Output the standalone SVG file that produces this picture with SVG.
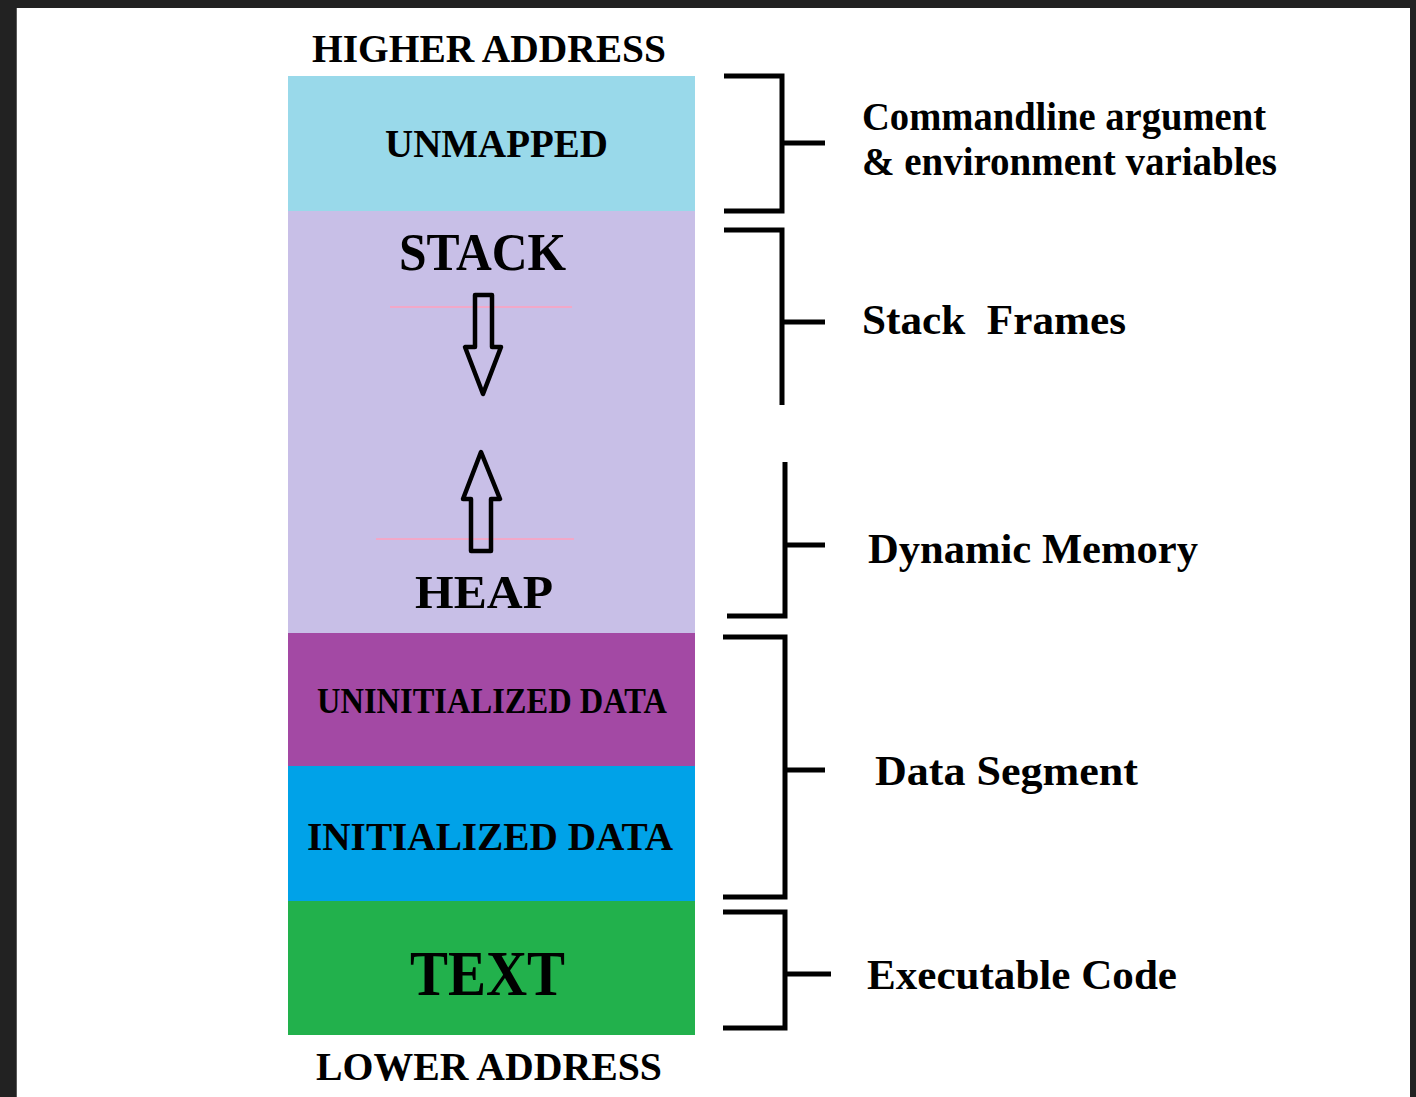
<svg xmlns="http://www.w3.org/2000/svg" width="1416" height="1097" viewBox="0 0 1416 1097">
<style>
.t{font-family:"Liberation Serif","Times New Roman",serif;font-weight:bold;fill:#000}
.br{fill:none;stroke:#000;stroke-width:5;stroke-linejoin:miter;stroke-linecap:butt}
.arw{fill:none;stroke:#000;stroke-width:4.5;stroke-linejoin:round}
.pk{stroke:#f2a8c8;stroke-width:2}
</style>
<rect x="0" y="0" width="1416" height="1097" fill="#222222"/>
<rect x="17" y="8" width="1393" height="1089" fill="#ffffff"/>
<line x1="16.5" y1="8" x2="16.5" y2="1097" stroke="#5a5a5a" stroke-width="1"/>

<text class="t" x="312" y="62" font-size="39" textLength="354" lengthAdjust="spacingAndGlyphs">HIGHER ADDRESS</text>

<g id="unmapped">
<rect x="288" y="76" width="407" height="135" fill="#99d9ea"/>
<text class="t" x="385" y="157" font-size="39" textLength="223" lengthAdjust="spacingAndGlyphs">UNMAPPED</text>
</g>
<g id="stack-heap">
<rect x="288" y="211" width="407" height="422" fill="#c8bfe7"/>
<text class="t" x="399" y="270" font-size="52" textLength="167" lengthAdjust="spacingAndGlyphs">STACK</text>
<line class="pk" x1="390" y1="307" x2="572" y2="307"/>
<polygon class="arw" points="475,295 492,295 492,347 501,347 483,394 465,347 475,347"/>
<line class="pk" x1="376" y1="539" x2="574" y2="539"/>
<polygon class="arw" points="481,452 500,499 491,499 491,551 471,551 471,499 463,499"/>
<text class="t" x="415" y="608" font-size="47" textLength="138" lengthAdjust="spacingAndGlyphs">HEAP</text>
</g>
<g id="uninit">
<rect x="288" y="633" width="407" height="133" fill="#a349a4"/>
<text class="t" x="317" y="713" font-size="36" textLength="350" lengthAdjust="spacingAndGlyphs">UNINITIALIZED DATA</text>
</g>
<g id="init">
<rect x="288" y="766" width="407" height="135" fill="#00a2e8"/>
<text class="t" x="307" y="850" font-size="40" textLength="366" lengthAdjust="spacingAndGlyphs">INITIALIZED DATA</text>
</g>
<g id="text">
<rect x="288" y="901" width="407" height="134" fill="#22b14c"/>
<text class="t" x="410" y="995" font-size="64" textLength="155" lengthAdjust="spacingAndGlyphs">TEXT</text>
</g>

<text class="t" x="316" y="1080" font-size="40" textLength="346" lengthAdjust="spacingAndGlyphs">LOWER ADDRESS</text>

<g id="connectors">
<polyline class="br" points="724,76 782,76 782,211 724,211"/>
<line class="br" x1="782" y1="143" x2="825" y2="143"/>
<polyline class="br" points="724,230 782,230 782,405"/>
<line class="br" x1="782" y1="322" x2="825" y2="322"/>
<polyline class="br" points="785,462 785,616 727,616"/>
<line class="br" x1="785" y1="545" x2="825" y2="545"/>
<polyline class="br" points="723,637 785,637 785,897 723,897"/>
<line class="br" x1="785" y1="770" x2="825" y2="770"/>
<polyline class="br" points="723,912 785,912 785,1028 723,1028"/>
<line class="br" x1="785" y1="974" x2="831" y2="974"/>
</g>

<g id="label-args">
<text class="t" x="862" y="130" font-size="40" textLength="404" lengthAdjust="spacingAndGlyphs">Commandline argument</text>
<text class="t" x="862" y="175" font-size="40" textLength="415" lengthAdjust="spacingAndGlyphs">&amp; environment variables</text>
</g>
<g id="label-stack">
<text class="t" x="862" y="334" font-size="42" textLength="264" lengthAdjust="spacingAndGlyphs" xml:space="preserve">Stack  Frames</text>
</g>
<g id="label-dynamic">
<text class="t" x="868" y="563" font-size="42" textLength="330" lengthAdjust="spacingAndGlyphs">Dynamic Memory</text>
</g>
<g id="label-data">
<text class="t" x="875" y="785" font-size="42" textLength="263" lengthAdjust="spacingAndGlyphs">Data Segment</text>
</g>
<g id="label-exec">
<text class="t" x="867" y="989" font-size="42" textLength="310" lengthAdjust="spacingAndGlyphs">Executable Code</text>
</g>
</svg>
